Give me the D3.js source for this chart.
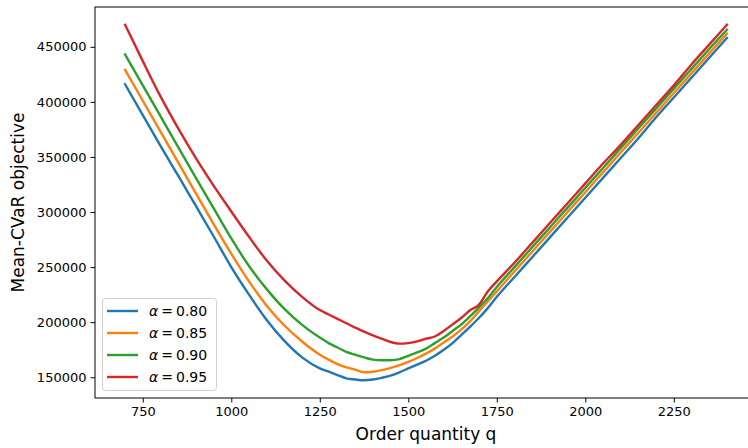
<!DOCTYPE html>
<html>
<head>
<meta charset="utf-8">
<script src="https://cdn.jsdelivr.net/npm/d3@7"></script>
<style>
  html, body { margin: 0; padding: 0; background: #fff; }
  svg { display: block; overflow: hidden; font-family: "DejaVu Sans", sans-serif; }
</style>
</head>
<body>
<svg id="chart"></svg>
<script>
// order quantities (shared by all series)
const qValues = [
  700, 750, 800, 850, 900, 950, 1000, 1050, 1100, 1150, 1200, 1250,
  1275, 1300, 1325, 1350, 1375, 1400, 1425, 1450, 1475, 1500, 1525, 1550,
  1575, 1600, 1625, 1650, 1675, 1700, 1725, 1750,
  1800, 1850, 1900, 1950, 2000, 2050, 2100, 2150, 2200, 2250, 2300, 2350, 2400
];

// objective values
const alpha080 = [
  416000, 388000, 360000, 333000, 305500, 278000, 250000, 225000, 202000, 183000, 168000, 158000,
  155000, 152000, 149000, 148000, 147300, 148000, 149500, 151500, 154500, 158000, 161500, 165000,
  169500, 175000, 181000, 188500, 196000, 204000, 213000, 223000,
  241000, 259000, 277000, 295000, 313000, 331000, 349000, 367000, 386000, 404000, 422000, 440000, 458000
];
const alpha085 = [
  429000, 401000, 373000, 345000, 317000, 289000, 262000, 237000, 215000, 197000, 182500, 170500,
  166000, 162000, 159000, 157000, 154500, 155000, 156500, 158500, 161000, 164000, 167500, 171500,
  176000, 181500, 187000, 193500, 201000, 210000, 219000, 228000,
  246000, 264000, 282000, 300000, 318000, 336000, 354000, 372000, 390000, 408000, 426000, 444000, 462000
];
const alpha090 = [
  443000, 415000, 387000, 359000, 331000, 303500, 276000, 251000, 230000, 212000, 197500, 186000,
  181000, 177000, 173000, 170500, 168000, 166000, 165500, 165500, 166500, 169500, 172500, 176000,
  181000, 186000, 192000, 198000, 205500, 213500, 222000, 232000,
  250000, 268000, 286000, 304000, 322000, 340000, 358000, 376000, 394000, 412000, 430000, 448000, 465500
];
const alpha095 = [
  470000, 437000, 405000, 376000, 349000, 324000, 300500, 277500, 256000, 238000, 223000, 211000,
  207000, 203000, 199000, 195000, 191500, 188000, 185000, 182000, 180500, 181000, 182500, 185000,
  187000, 192000, 198000, 204000, 211000, 216000, 228000, 237000,
  254000, 272000, 290000, 308000, 326000, 344000, 361000, 379000, 397000, 415000, 434000, 452000, 470000
];

const seriesNames = ["0.80", "0.85", "0.90", "0.95"];
const seriesValues = [alpha080, alpha085, alpha090, alpha095];
const colors = ["#1f77b4", "#ff7f0e", "#2ca02c", "#d62728"];

const xTicks = [750, 1000, 1250, 1500, 1750, 2000, 2250];
const yTicks = [150000, 200000, 250000, 300000, 350000, 400000, 450000];

// layout
const svgW = 748, svgH = 448;
const plot = { left: 95, right: 757, top: 7, bottom: 398 };

const root = d3.select("#chart").attr("width", svgW).attr("height", svgH);

// matplotlib-like 5% margins
const xMin = d3.min(qValues), xMax = d3.max(qValues);
const allY = seriesValues.flat();
const yMin = d3.min(allY), yMax = d3.max(allY);
const xPad = (xMax - xMin) * 0.05, yPad = (yMax - yMin) * 0.05;

const x = d3.scaleLinear().domain([xMin - xPad, xMax + xPad]).range([plot.left, plot.right]);
const y = d3.scaleLinear().domain([yMin - yPad, yMax + yPad]).range([plot.bottom, plot.top]);

// axes
const xAxis = root.append("g")
  .attr("transform", `translate(0,${plot.bottom})`)
  .call(d3.axisBottom(x).tickValues(xTicks).tickFormat(d3.format("d")).tickSizeOuter(0).tickSize(4.5).tickPadding(4));
const yAxis = root.append("g")
  .attr("transform", `translate(${plot.left},0)`)
  .call(d3.axisLeft(y).tickValues(yTicks).tickFormat(d3.format("d")).tickSizeOuter(0).tickSize(4.5).tickPadding(4));

[xAxis, yAxis].forEach(a => {
  a.select(".domain").remove();
  a.selectAll("line").attr("stroke", "#000").attr("stroke-width", 1);
  a.selectAll("text")
    .attr("fill", "#000")
    .style("font-size", "13px")
    .style("font-family", "DejaVu Sans, sans-serif");
});

// lines
const line = d3.line()
  .x((d, i) => x(qValues[i]))
  .y(d => y(d))
  .curve(d3.curveMonotoneX);

root.selectAll("path.series")
  .data(seriesValues)
  .enter()
  .append("path")
  .attr("class", "series")
  .attr("fill", "none")
  .attr("stroke", (d, i) => colors[i])
  .attr("stroke-width", 2.4)
  .attr("stroke-linejoin", "round")
  .attr("stroke-linecap", "square")
  .attr("d", line);

// spines
root.append("rect")
  .attr("x", plot.left)
  .attr("y", plot.top)
  .attr("width", plot.right - plot.left)
  .attr("height", plot.bottom - plot.top)
  .attr("fill", "none")
  .attr("stroke", "#000")
  .attr("stroke-width", 1);

// axis labels
root.append("text")
  .attr("x", (plot.left + plot.right) / 2)
  .attr("y", 440)
  .attr("text-anchor", "middle")
  .style("font-size", "17px")
  .text("Order quantity q");

root.append("text")
  .attr("transform", `translate(24,${(plot.top + plot.bottom) / 2}) rotate(-90)`)
  .attr("text-anchor", "middle")
  .style("font-size", "17px")
  .text("Mean-CVaR objective");

// legend
const legend = root.append("g").attr("transform", "translate(102,298)");
legend.append("rect")
  .attr("x", 0.5).attr("y", 0.5)
  .attr("width", 114).attr("height", 92)
  .attr("rx", 3)
  .attr("fill", "rgba(255,255,255,0.8)")
  .attr("stroke", "#d0d0d0")
  .attr("stroke-width", 1);

seriesNames.forEach((name, i) => {
  const row = legend.append("g").attr("transform", `translate(0,${13 + i * 22})`);
  row.append("line")
    .attr("x1", 5).attr("x2", 36)
    .attr("y1", 0).attr("y2", 0)
    .attr("stroke", colors[i])
    .attr("stroke-width", 2.4);
  const t = row.append("text")
    .attr("x", 47)
    .attr("y", 5)
    .style("font-size", "14px");
  t.append("tspan").style("font-style", "italic").text("α");
  t.append("tspan").attr("dx", 3).text("=");
  t.append("tspan").attr("dx", 3).text(name);
});
</script>
</body>
</html>
